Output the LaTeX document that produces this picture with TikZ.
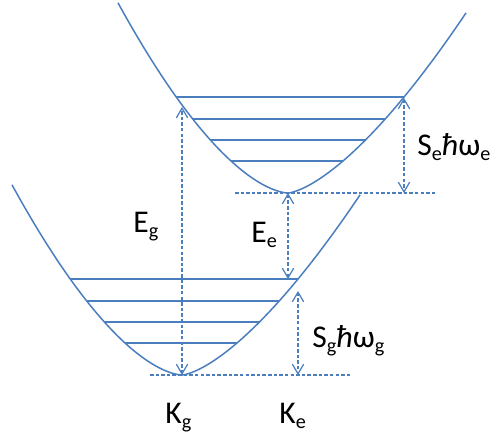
\documentclass[tikz,border=0pt]{standalone}
\usepackage{fontspec}
\setmainfont{Carlito}
\usetikzlibrary{arrows.meta}
\definecolor{wellblue}{RGB}{74,126,190}
\newcommand{\lowsub}[1]{\raisebox{-3.4pt}{\fontsize{11.5}{12}\selectfont #1}}

\begin{document}
\begin{tikzpicture}[
    x=0.02cm, y=-0.02cm,
    every node/.style={font=\fontsize{18}{20}\selectfont, inner sep=0pt, anchor=base west},
    curve/.style={draw=wellblue, line width=0.85pt},
    level/.style={draw=wellblue, line width=0.8pt},
    guide/.style={draw=wellblue, dash pattern=on 2pt off 1.2pt, line width=0.7pt},
    gap/.style={guide, {Straight Barb[length=5.5pt,width=6.5pt]}-{Straight Barb[length=5.5pt,width=6.5pt]}},
    well/.pic={
        \draw[curve] plot[domain=-170:0, samples=60] (\x, {-0.044*pow(abs(\x)+0.01,1.63)})
            -- plot[domain=0:178, samples=60] (\x, {-0.0886*pow(\x+0.01,1.47)});
        \draw[level] (-112,-96) -- (116,-96);
        \draw[level] (-95.3,-74) -- (97.2,-74);
        \draw[level] (-77.7,-53) -- (77.5,-53);
        \draw[level] (-57,-32) -- (55,-32);
    }
]
\useasboundingbox (0,0) rectangle (496,437);

% ================= POTENTIAL WELLS =================
\pic (lowwell) at (182,375) {well};
\pic (upwell) at (288,193) {well};

% ================= MINIMA =================
\coordinate (lowbot) at (182,375);
\coordinate (upbot) at (288,193);
\coordinate (lowleft) at (150,375);
\coordinate (lowright) at (352,375);
\coordinate (upleft) at (235,193);
\coordinate (upright) at (435,193);

\draw[guide] (lowleft) -- (lowright);
\draw[guide] (upleft) -- (upright);

% ================= ENERGY GAPS =================
\coordinate (egtop) at (182,107);
\coordinate (eebot) at (288,279);
\coordinate (setop) at (404,98);
\coordinate (sebot) at (404,193);
\coordinate (sgtop) at (298,291);
\coordinate (sgbot) at (298,375);

\draw[gap] (lowbot) -- (egtop);
\draw[gap] (upbot) -- (eebot);
\draw[gap] (setop) -- (sebot);
\draw[gap] (sgtop) -- (sgbot);

% ================= LABELS =================
\node (eg) at (133,232) {E\lowsub{g}};
\node (ee) at (251,242) {E\lowsub{e}};
\node (se) at (417,155) {S\lowsub{e}\textit{ħ}ω\lowsub{e}};
\node (sg) at (312,347) {S\lowsub{g}\textit{ħ}ω\lowsub{g}};
\node (kg) at (165,423) {K\lowsub{g}};
\node (ke) at (279,423) {K\lowsub{e}};

\end{tikzpicture}
\end{document}
